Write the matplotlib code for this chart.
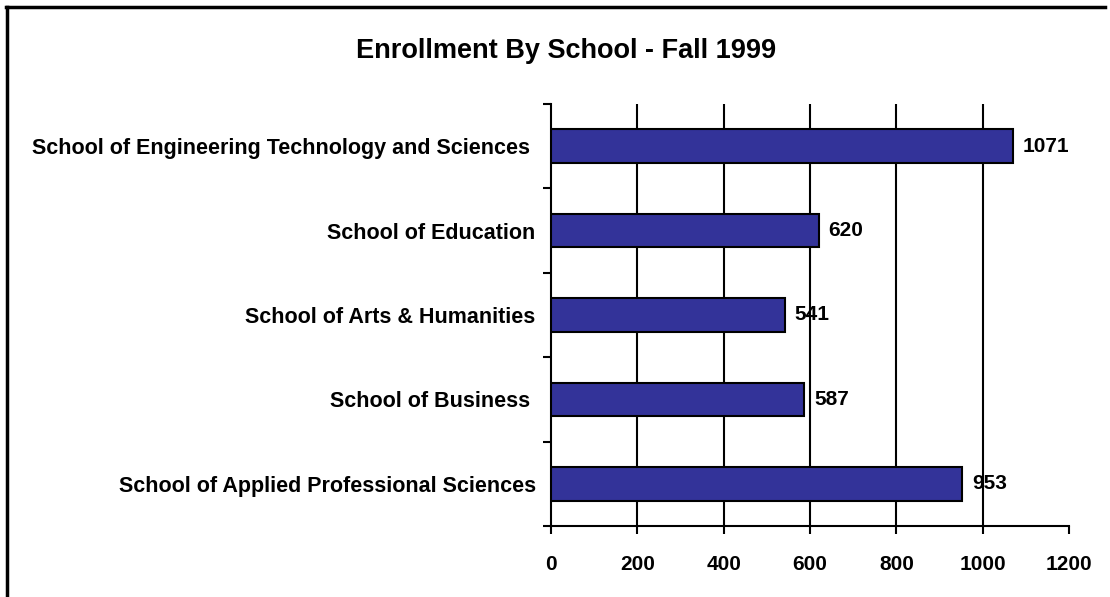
import matplotlib
matplotlib.use("Agg")
import matplotlib.pyplot as plt
from matplotlib.lines import Line2D
from matplotlib.transforms import offset_copy

plt.rcParams['font.family'] = ['Liberation Sans', 'DejaVu Sans']

title = "Enrollment By School - Fall 1999"
categories = [
    "School of Engineering Technology and Sciences ",
    "School of Education",
    "School of Arts & Humanities",
    "School of Business ",
    "School of Applied Professional Sciences",
]
values = [1071, 620, 541, 587, 953]
xticks = [0, 200, 400, 600, 800, 1000, 1200]

W, H = 1110, 597
fig = plt.figure(figsize=(W / 100, H / 100), dpi=100)
ax = fig.add_axes([551 / W, 1 - 526 / H, (1069 - 551) / W, (526 - 104) / H])

ypos = list(range(len(categories)))
ax.barh(ypos, values, height=0.4, color="#333399", edgecolor="black",
        linewidth=1.5, zorder=3)
ax.set_ylim(len(categories) - 0.5, -0.5)
ax.set_xlim(0, 1200)

ax.set_xticks(xticks)
ax.set_xticklabels([str(t) for t in xticks], fontsize=15, fontweight="bold")
ax.set_yticks([y - 0.5 for y in range(len(categories) + 1)], minor=False)
ax.set_yticklabels([])
ax.set_yticks(ypos, minor=True)
ax.set_yticklabels(categories, minor=True, fontsize=15.5, fontweight="bold")
ax.tick_params(axis="y", which="minor", length=0, pad=11)
ax.tick_params(axis="y", which="major", length=6, width=1.5, direction="out")
ax.tick_params(axis="x", length=6, width=1.5, direction="out", pad=15)

ax.grid(axis="x", color="black", linewidth=1.5)
ax.set_axisbelow(False)
gls = ax.get_xgridlines()
for gl in gls:
    gl.set_zorder(2.5)
gls[0].set_visible(False)
gls[-1].set_visible(False)

for s in ("top", "right"):
    ax.spines[s].set_visible(False)
for s in ("left", "bottom"):
    ax.spines[s].set_linewidth(1.5)

for y, v in zip(ypos, values):
    tr = offset_copy(ax.transData, fig=fig, x=7, y=0, units="points")
    ax.text(v, y, str(v), va="center", ha="left", fontsize=15,
            fontweight="bold", zorder=2, transform=tr)

fig.text(566 / W, 1 - 51 / H, title, ha="center", va="center",
         fontsize=19.5, fontweight="bold")

# outer frame (left and top edges visible)
fig.add_artist(Line2D([7 / W, 7 / W], [0, 1 - 7 / H], transform=fig.transFigure,
                      color="black", linewidth=2.5))
fig.add_artist(Line2D([6 / W, 1105 / W], [1 - 7 / H, 1 - 7 / H],
                      transform=fig.transFigure, color="black", linewidth=2.5))

fig.savefig("out.png", dpi=100)
